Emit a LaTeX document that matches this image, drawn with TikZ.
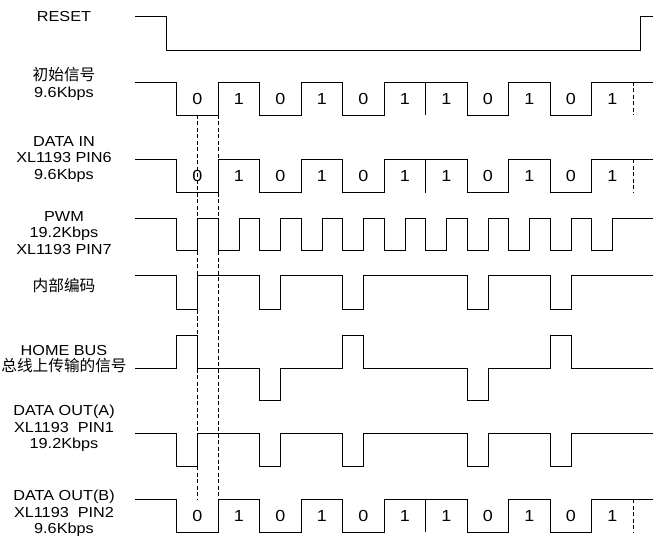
\documentclass[tikz,border=0pt]{standalone}
\usepackage{fontspec}
\setmainfont{Liberation Sans}[FakeStretch=1.12]
\newfontfamily\cjk{Noto Sans CJK SC}[Scale=1.08]

% one data line: name, high level, low level
\newcommand\datawave[3]{%
  \draw[wave] (135,#2) -| (176.7,#3) -| (218.2,#2) -| (259.7,#3) -| (301.2,#2)
    -| (342.7,#3) -| (384.2,#2) -| (467.2,#3) -| (508.7,#2) -| (550.2,#3)
    -| (591.7,#2) -- (653,#2);
  \draw[wave] (425.7,#2) -- (425.7,#3);
  \draw[guide] (633.2,#2) -- (633.2,#3);
  \foreach \v [count=\i from 0] in {0,1,0,1,0,1,1,0,1,0,1}
    \node[bit] (#1-\i) at ({197.45+41.5*\i},{(#2+#3)/2}) {\v};
}

\begin{document}
\begin{tikzpicture}[
  x=1pt, y=-1pt,
  wave/.style={line width=0.9pt},
  guide/.style={line width=0.7pt, dash pattern=on 4pt off 2.5pt},
  sig/.style={align=center, font=\fontsize{14.5}{16.5}\selectfont},
  bit/.style={inner sep=0pt, font=\fontsize{16}{16.5}\selectfont}
]
\useasboundingbox (0,0) rectangle (653,537);

\node[sig] (reset) at (64,17) {RESET};
\node[sig] (init) at (64,84) {{\cjk 初始信号}\\9.6Kbps};
\node[sig] (datain) at (64,159.5) {DATA IN\\XL1193 PIN6\\9.6Kbps};
\node[sig] (pwm) at (64,232.7) {PWM\\19.2Kbps\\XL1193 PIN7};
\node[sig] (inner) at (64,286) {\cjk 内部编码};
\node[sig] (homebus) at (64,359) {HOME BUS\\{\cjk 总线上传输的信号}};
\node[sig] (outa) at (64,428.3) {DATA OUT(A)\\XL1193\ \ PIN1\\19.2Kbps};
\node[sig] (outb) at (64,513.7) {DATA OUT(B)\\XL1193\ \ PIN2\\9.6Kbps};

\draw[wave] (135,16) -| (166.7,50) -| (640,16) -- (653,16);

\datawave{init}{82}{115}
\datawave{din}{159.3}{192.7}

\draw[wave] (135,218.3) \foreach \i in {0,...,10} {
    -| ({176.7+41.5*\i},250.7) -| ({197.45+41.5*\i},218.3) } -- (653,218.3);

\draw[wave] (135,275.7) \foreach \i in {0,2,4,7,9} {
    -| ({176.7+41.5*\i},309) -| ({197.45+41.5*\i},275.7) } -- (653,275.7);

\draw[wave] (135,368.3) \foreach \i/\y in {0/335.7,2/400.5,4/335.7,7/400.5,9/335.7} {
    -| ({176.7+41.5*\i},\y) -| ({197.45+41.5*\i},368.3) } -- (653,368.3);

\draw[wave] (135,433) \foreach \i in {0,2,4,7,9} {
    -| ({176.7+41.5*\i},466.3) -| ({197.45+41.5*\i},433) } -- (653,433);

\datawave{dout}{499.3}{532}

\draw[guide] (197.7,115) -- (197.7,499.3);
\draw[guide] (218.3,115) -- (218.3,499.3);
\end{tikzpicture}
\end{document}
